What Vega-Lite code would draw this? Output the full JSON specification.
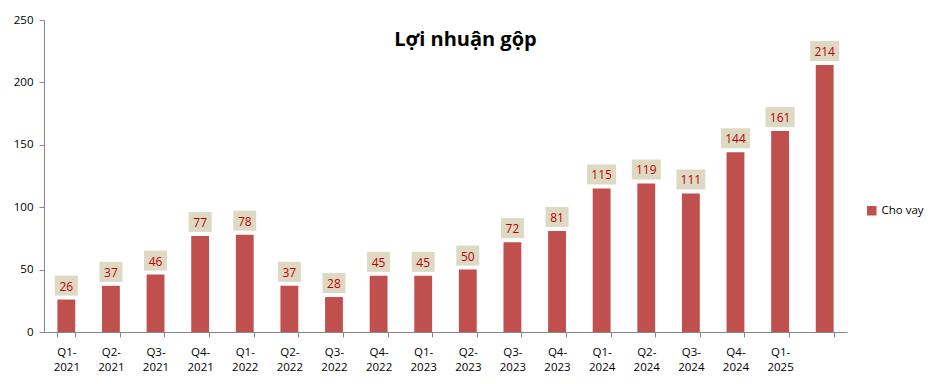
{
  "$schema": "https://vega.github.io/schema/vega-lite/v6.json",
  "autosize": "none",
  "width": 803,
  "height": 312,
  "padding": {"left": 44, "top": 20, "right": 92, "bottom": 52},
  "background": "white",
  "config": {"view": {"stroke": null}, "font": "Open Sans"},
  "title": {"text": "Lợi nhuận gộp", "fontSize": 20, "font": "Open Sans", "fontWeight": "bold", "color": "#000000", "anchor": "middle", "offset": -36, "dx": 20},
  "data": {"values": [
    {"quarter": "Q1-2021", "value": 26, "series": "Cho vay"},
    {"quarter": "Q2-2021", "value": 37, "series": "Cho vay"},
    {"quarter": "Q3-2021", "value": 46, "series": "Cho vay"},
    {"quarter": "Q4-2021", "value": 77, "series": "Cho vay"},
    {"quarter": "Q1-2022", "value": 78, "series": "Cho vay"},
    {"quarter": "Q2-2022", "value": 37, "series": "Cho vay"},
    {"quarter": "Q3-2022", "value": 28, "series": "Cho vay"},
    {"quarter": "Q4-2022", "value": 45, "series": "Cho vay"},
    {"quarter": "Q1-2023", "value": 45, "series": "Cho vay"},
    {"quarter": "Q2-2023", "value": 50, "series": "Cho vay"},
    {"quarter": "Q3-2023", "value": 72, "series": "Cho vay"},
    {"quarter": "Q4-2023", "value": 81, "series": "Cho vay"},
    {"quarter": "Q1-2024", "value": 115, "series": "Cho vay"},
    {"quarter": "Q2-2024", "value": 119, "series": "Cho vay"},
    {"quarter": "Q3-2024", "value": 111, "series": "Cho vay"},
    {"quarter": "Q4-2024", "value": 144, "series": "Cho vay"},
    {"quarter": "Q1-2025", "value": 161, "series": "Cho vay"},
    {"quarter": "Q2-2025", "value": 214, "series": "Cho vay"}
  ]},
  "encoding": {
    "x": {"field": "quarter", "type": "nominal", "sort": null,
      "scale": {"paddingInner": 0.6, "paddingOuter": 0.3},
      "axis": {"title": null, "labelAngle": 0, "tickBand": "extent", "domainColor": "#868686", "tickColor": "#868686", "tickSize": 5,
        "labelFontSize": 11.5, "labelColor": "#000000", "labelPadding": 9, "labelLineHeight": 15,
        "labelExpr": "datum.label == 'Q2-2025' ? '' : [slice(datum.label, 0, 3), slice(datum.label, 3)]"}},
    "y": {"field": "value", "type": "quantitative",
      "scale": {"domain": [0, 250]},
      "axis": {"title": null, "values": [0, 50, 100, 150, 200, 250], "grid": false, "domainColor": "#868686", "tickColor": "#868686", "tickSize": 5,
        "labelFontSize": 11.5, "labelColor": "#000000", "labelPadding": 6}}
  },
  "layer": [
    {"mark": {"type": "bar", "color": "#C0504D"},
     "encoding": {"color": {"field": "series", "type": "nominal", "scale": {"range": ["#C0504D"]},
       "legend": {"title": null, "orient": "none", "legendX": 822, "legendY": 185, "symbolType": "square", "symbolSize": 90, "labelFontSize": 11.5, "labelColor": "#000000"}}}},
    {"mark": {"type": "tick", "color": "#DDD9C3", "opacity": 1, "thickness": 20, "yOffset": -14, "orient": "horizontal"},
     "encoding": {"size": {"condition": {"test": "datum.value >= 100", "value": 29}, "value": 23}}},
    {"mark": {"type": "text", "color": "#C00000", "fontSize": 12, "baseline": "middle", "yOffset": -13},
     "encoding": {"text": {"field": "value", "type": "quantitative"}}}
  ]
}
